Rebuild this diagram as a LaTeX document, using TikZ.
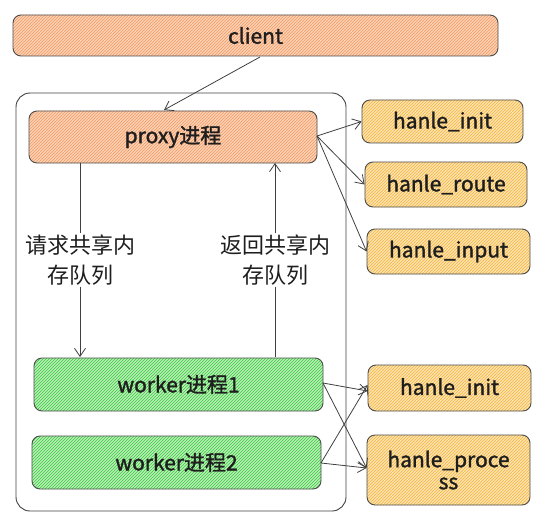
\documentclass[tikz,border=0pt]{standalone}
\usepackage{fontspec}
\setmainfont[AutoFakeBold=1.5]{Noto Sans CJK SC}
\usetikzlibrary{arrows.meta,patterns}
\definecolor{orfill}{HTML}{FBD2B8}
\definecolor{orline}{HTML}{F59A5E}
\definecolor{yefill}{HTML}{FCE3B0}
\definecolor{yeline}{HTML}{F5B43C}
\definecolor{grfill}{HTML}{B8F0B8}
\definecolor{grline}{HTML}{3CC83C}
\definecolor{ink}{HTML}{1E1E1E}
\tikzset{
  box/.style={draw=ink!80, line width=0.9pt, rounded corners=8pt, inner sep=0pt, text=ink, font=\fontsize{21}{24}\selectfont\bfseries},
  orbox/.style={box, preaction={fill=orfill}, pattern=north east lines, pattern color=orline},
  yebox/.style={box, preaction={fill=yefill}, pattern=north east lines, pattern color=yeline},
  grbox/.style={box, preaction={fill=grfill}, pattern=north east lines, pattern color=grline},
  arr/.style={draw=ink!85, line width=0.8pt, -{Straight Barb[length=8pt,width=11pt]}},
  lbl/.style={font=\fontsize{22}{30}\selectfont, text=ink, align=center, fill=white, inner sep=2pt}
}
\begin{document}
\begin{tikzpicture}[x=1pt,y=-1pt]
\useasboundingbox (0,0) rectangle (545,513);
% outer container
\draw[draw=ink!85, line width=0.9pt, rounded corners=14pt] (16,93) rectangle (346,511);
% boxes
\node[orbox, minimum width=485pt, minimum height=41pt] (client) at (255.5,35.5) {client};
\node[orbox, minimum width=288pt, minimum height=52pt] (proxy) at (173,137) {proxy进程};
\node[grbox, minimum width=289pt, minimum height=53pt] (w1) at (178.5,384.5) {worker进程1};
\node[grbox, minimum width=289pt, minimum height=53pt] (w2) at (176.5,462.5) {worker进程2};
\node[yebox, minimum width=161pt, minimum height=43pt] (hi1) at (442.5,121.5) {hanle\_init};
\node[yebox, minimum width=162pt, minimum height=45pt] (hr) at (446,184.5) {hanle\_route};
\node[yebox, minimum width=163pt, minimum height=45pt] (hin) at (448.5,251.5) {hanle\_input};
\node[yebox, minimum width=163pt, minimum height=46pt] (hi2) at (449.5,388) {hanle\_init};
\node[yebox, minimum width=163pt, minimum height=70pt, align=center] (hp) at (448.5,470) {hanle\_proce\\[-2pt]ss};
% coordinates
\coordinate (cb) at (260,57);
\coordinate (pt) at (164,110);
\coordinate (pr) at (317,136);
\coordinate (w1r) at (323,383);
\coordinate (w2r) at (321,463);
% arrows
\draw[arr] (cb) -- (pt);
\draw[arr] (pr) -- (hi1.west);
\draw[arr] (pr) -- (hr.west);
\draw[arr] (pr) -- (hin.west);
\draw[arr] (w1r) -- ([yshift=-3pt]hi2.west);
\draw[arr] (w1r) -- ([yshift=2pt]hp.west);
\draw[arr] (w2r) -- ([yshift=3pt]hi2.west);
\draw[arr] (w2r) -- ([yshift=2pt]hp.west);
% queue arrows
\coordinate (pb1) at (80,163);
\coordinate (wt1) at (80,357);
\coordinate (wt2) at (275,357);
\coordinate (pb2) at (275,163);
\draw[arr] (pb1) -- node[lbl] (l1) {请求共享内\\存队列} (wt1);
\draw[arr] (wt2) -- node[lbl] (l2) {返回共享内\\存队列} (pb2);
\end{tikzpicture}
\end{document}
